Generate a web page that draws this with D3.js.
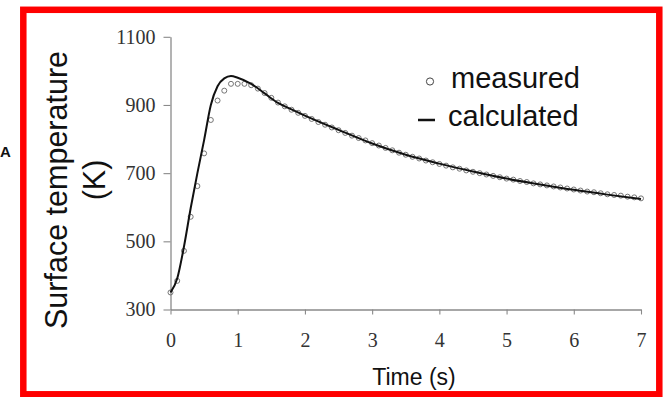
<!DOCTYPE html>
<html><head><meta charset="utf-8">
<script src="https://cdn.jsdelivr.net/npm/d3@7"></script>
<style>html,body{margin:0;padding:0;background:#fff;overflow:hidden}</style>
</head><body>
<svg id="c" width="663" height="397"></svg>
<script>
// ---- data ----
const xTicks = [0, 1, 2, 3, 4, 5, 6, 7];
const yTicks = [300, 500, 700, 900, 1100];
const measuredTime = [0.0,0.1,0.2,0.3,0.4,0.5,0.6,0.7,0.8,0.9,1.0,1.1,1.2,1.3,1.4,1.5,1.6,1.7,1.8,1.9,
  2.0,2.1,2.2,2.3,2.4,2.5,2.6,2.7,2.8,2.9,3.0,3.1,3.2,3.3,3.4,3.5,3.6,3.7,3.8,3.9,
  4.0,4.1,4.2,4.3,4.4,4.5,4.6,4.7,4.8,4.9,5.0,5.1,5.2,5.3,5.4,5.5,5.6,5.7,5.8,5.9,
  6.0,6.1,6.2,6.3,6.4,6.5,6.6,6.7,6.8,6.9,7.0];
const measuredTemp = [350,384,472,572,662,758,856,913,942,962,962,962,958,948,935,921,907,896,886,877,
  868,859,850,842,834,826,818,810,803,796,788,781,774,767,760,754,748,743,737,732,
  727,722,717,713,708,704,700,696,692,688,684,681,677,674,670,667,664,661,658,655,
  652,649,646,644,641,638,636,634,631,629,626];
const calcTime = [0,0.1,0.2,0.3,0.4,0.5,0.6,0.7,0.8,0.9,1.0,1.2,1.4,1.6,1.8,2.0,2.5,3.0,3.5,4.0,4.5,5.0,5.5,6.0,6.5,7.0];
const calcTemp = [350,391,484,597,700,797,900,955,978,985,980,962,934,906,887,869,827,787,754,728,705,684,667,651,637,624];
const legendLabels = ["measured", "calculated"];
const yTitle = ["Surface temperature", "(K)"];
const xTitle = "Time (s)";

// ---- chart ----
const svg = d3.select("#c");
const x = d3.scaleLinear().domain([0, 7]).range([170.5, 641]);
const y = d3.scaleLinear().domain([300, 1100]).range([309.5, 36.8]);

// frame
svg.append("rect").attr("x", 23.3).attr("y", 9.8).attr("width", 636).attr("height", 384.5)
  .attr("fill", "#fff").attr("stroke", "#ff0000").attr("stroke-width", 6.5);
// stray letter outside frame
svg.append("text").attr("x", 0).attr("y", 157).attr("font-family", "Liberation Sans, Arial")
  .attr("font-size", 15).attr("font-weight", "bold").attr("fill", "#111").text("A");

const axisColor = "#8a8a8a";
const fmt = d3.format("d");
const yAxis = svg.append("g").attr("transform", `translate(${x(0)},0)`)
  .call(d3.axisLeft(y).tickValues(yTicks).tickFormat(fmt).tickSize(7).tickSizeOuter(0).tickPadding(8));
const xAxis = svg.append("g").attr("transform", `translate(0,${y(300)})`)
  .call(d3.axisBottom(x).tickValues(xTicks).tickFormat(fmt).tickSize(5).tickSizeOuter(0).tickPadding(18));
[xAxis, yAxis].forEach(g => {
  g.select(".domain").attr("stroke", axisColor).attr("stroke-width", 1.3);
  g.selectAll(".tick line").attr("stroke", axisColor).attr("stroke-width", 1.1);
  g.selectAll(".tick text").attr("font-family", "Liberation Serif, Times New Roman")
    .attr("font-size", 20).attr("fill", "#333");
});

// measured circles
svg.append("g").selectAll("circle").data(measuredTime).join("circle")
  .attr("cx", d => x(d)).attr("cy", (d, i) => y(measuredTemp[i]))
  .attr("r", 2.5).attr("fill", "none").attr("stroke", "#666").attr("stroke-width", 0.9);

// calculated line
const line = d3.line().x(d => x(d[0])).y(d => y(d[1])).curve(d3.curveMonotoneX);
svg.append("path").datum(calcTime.map((t, i) => [t, calcTemp[i]]))
  .attr("d", line).attr("fill", "none").attr("stroke", "#111").attr("stroke-width", 2);

// legend
svg.append("circle").attr("cx", 430).attr("cy", 81.5).attr("r", 3.6)
  .attr("fill", "none").attr("stroke", "#444").attr("stroke-width", 1);
svg.append("line").attr("x1", 418).attr("x2", 435).attr("y1", 120).attr("y2", 120)
  .attr("stroke", "#111").attr("stroke-width", 2.5);
svg.append("text").attr("x", 451).attr("y", 88).attr("font-family", "Liberation Sans, Arial")
  .attr("font-size", 29).attr("fill", "#111").text(legendLabels[0]);
svg.append("text").attr("x", 448).attr("y", 126).attr("font-family", "Liberation Sans, Arial")
  .attr("font-size", 29).attr("fill", "#111").text(legendLabels[1]);

// axis titles
svg.append("text").attr("transform", "translate(67,190) rotate(-90)").attr("text-anchor", "middle")
  .attr("font-family", "Liberation Sans, Arial").attr("font-size", 30.5).attr("fill", "#111").text(yTitle[0]);
svg.append("text").attr("transform", "translate(105,180) rotate(-90)").attr("text-anchor", "middle")
  .attr("font-family", "Liberation Sans, Arial").attr("font-size", 30.5).attr("fill", "#111").text(yTitle[1]);
svg.append("text").attr("x", 414).attr("y", 385).attr("text-anchor", "middle")
  .attr("font-family", "Liberation Sans, Arial").attr("font-size", 23).attr("fill", "#111").text(xTitle);
</script>
</body></html>
